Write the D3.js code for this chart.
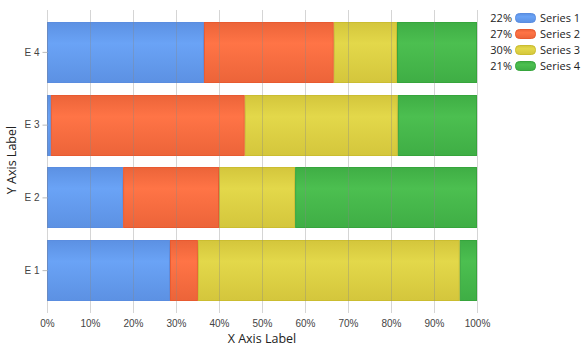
<!DOCTYPE html>
<html>
<head>
<meta charset="utf-8">
<script src="https://cdn.jsdelivr.net/npm/d3@7"></script>
<style>
  body { margin: 0; background: #fff; font-family: "Open Sans", "DejaVu Sans", sans-serif; }
  .tick text { fill: #444; font-size: 10px; }
  .axis-title { fill: #222; font-size: 12.5px; }
  .legend text { fill: #222; font-size: 11px; }
</style>
</head>
<body>
<script>
// categories, bottom to top as in the picture
var categories = ["E 1", "E 2", "E 3", "E 4"];
var seriesNames = ["Series 1", "Series 2", "Series 3", "Series 4"];
var legendPct = ["22%", "27%", "30%", "21%"];
// percent of each row, per series
var s1 = [28.6, 17.7, 0.9, 36.5];
var s2 = [6.5, 22.3, 45.1, 30.2];
var s3 = [60.9, 17.7, 35.6, 14.7];
var s4 = [4.0, 42.3, 18.4, 18.6];
var xTicks = [0, 10, 20, 30, 40, 50, 60, 70, 80, 90, 100];

var colors = [
  { top: "#5c91e3", mid: "#6aa3f6", line: "#5a8de0" },
  { top: "#ec6439", mid: "#ff7446", line: "#e85a30" },
  { top: "#d4c63c", mid: "#e3d84a", line: "#cbbd30" },
  { top: "#3fae45", mid: "#4cbf50", line: "#36a53c" }
];

var width = 586, height = 353;
var plotLeft = 47, plotRight = 477, plotTop = 10, plotBottom = 310;

var svg = d3.select("body").append("svg")
    .attr("width", width)
    .attr("height", height);

var defs = svg.append("defs");
colors.forEach(function(c, i) {
  var g = defs.append("linearGradient").attr("id", "g" + i)
      .attr("x1", 0).attr("y1", 0).attr("x2", 0).attr("y2", 1);
  g.append("stop").attr("offset", "0%").attr("stop-color", c.top);
  g.append("stop").attr("offset", "35%").attr("stop-color", c.mid);
  g.append("stop").attr("offset", "100%").attr("stop-color", c.top);
});

var x = d3.scaleLinear().domain([0, 100]).range([plotLeft, plotRight]);
var y = d3.scaleBand().domain(categories.slice().reverse())
    .range([16, 307]).paddingInner(0.16).paddingOuter(0.08);

var rows = categories.map(function(c, i) {
  return { cat: c, v: [s1[i], s2[i], s3[i], s4[i]] };
});
var stack = d3.stack().keys([0, 1, 2, 3]).value(function(d, k) { return d.v[k]; });
var layers = stack(rows);

// bars
svg.append("g").selectAll("g")
  .data(layers)
  .join("g")
    .attr("fill", function(d, i) { return "url(#g" + i + ")"; })
    .attr("stroke", function(d, i) { return colors[i].line; })
  .selectAll("rect")
  .data(function(d) { return d; })
  .join("rect")
    .attr("x", function(d) { return x(d[0]) + 0.5; })
    .attr("y", function(d) { return Math.round(y(d.data.cat)) + 0.5; })
    .attr("width", function(d) { return Math.max(0, x(d[1]) - x(d[0]) - 1); })
    .attr("height", Math.round(y.bandwidth()) - 1);

// gridlines drawn over the bars, faint
svg.append("g").selectAll("line")
  .data(xTicks)
  .join("line")
    .attr("x1", function(d) { return Math.round(x(d)) + 0.5; })
    .attr("x2", function(d) { return Math.round(x(d)) + 0.5; })
    .attr("y1", plotTop).attr("y2", plotBottom + 3)
    .attr("stroke", "#888")
    .attr("stroke-opacity", 0.35);

// x axis
var xAxis = svg.append("g")
    .attr("transform", "translate(0," + plotBottom + ")")
    .call(d3.axisBottom(x).tickValues(xTicks).tickSize(0).tickPadding(10)
      .tickFormat(function(d) { return d + "%"; }));
xAxis.select(".domain").remove();

// y axis
var yAxis = svg.append("g")
    .attr("transform", "translate(" + (plotLeft + 0.5) + ",0)")
    .call(d3.axisLeft(y).tickSize(5).tickPadding(3));
yAxis.select(".domain").remove();
yAxis.selectAll(".tick line").attr("stroke", "#bbb");
yAxis.selectAll(".tick text").attr("font-size", "10px");

svg.append("text").attr("class", "axis-title")
    .attr("x", (plotLeft + plotRight) / 2).attr("y", 343)
    .attr("text-anchor", "middle")
    .text("X Axis Label");

svg.append("text").attr("class", "axis-title")
    .attr("transform", "translate(16," + ((plotTop + plotBottom) / 2) + ") rotate(-90)")
    .attr("text-anchor", "middle")
    .text("Y Axis Label");

// legend
var legend = svg.append("g").attr("class", "legend")
    .attr("transform", "translate(488,18)");
var item = legend.selectAll("g")
  .data(seriesNames)
  .join("g")
    .attr("transform", function(d, i) { return "translate(0," + i * 16 + ")"; });
item.append("text")
    .attr("x", 24).attr("dy", "0.35em").attr("text-anchor", "end")
    .text(function(d, i) { return legendPct[i]; });
item.append("rect")
    .attr("x", 27.5).attr("y", -4.5).attr("width", 20).attr("height", 9)
    .attr("rx", 4)
    .attr("fill", function(d, i) { return "url(#g" + i + ")"; })
    .attr("stroke", function(d, i) { return colors[i].line; });
item.append("text")
    .attr("x", 52).attr("dy", "0.35em")
    .text(function(d) { return d; });
</script>
</body>
</html>
